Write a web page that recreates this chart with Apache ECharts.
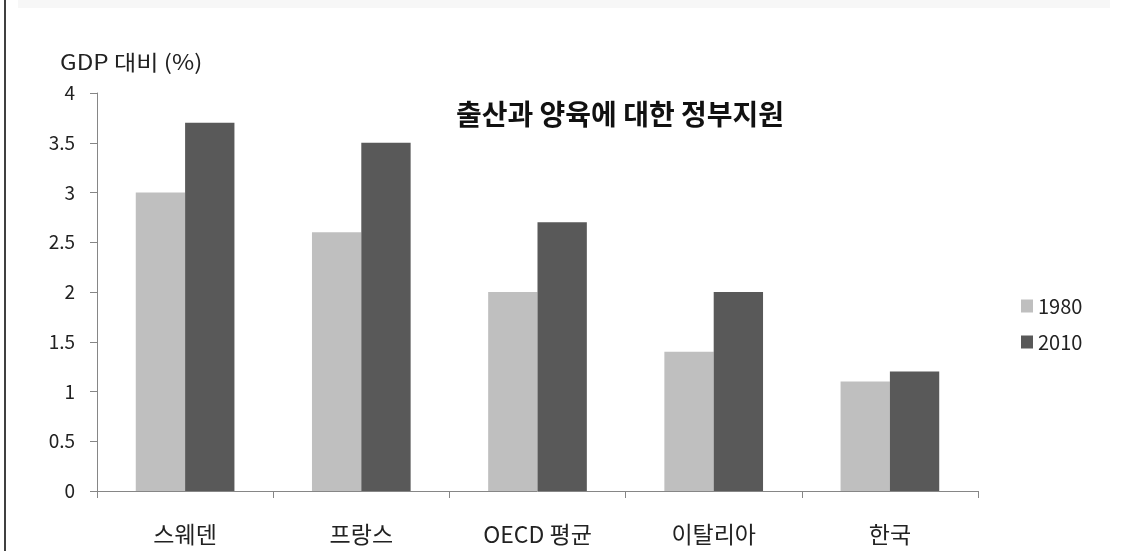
<!DOCTYPE html>
<html><head><meta charset="utf-8">
<script src="https://cdn.jsdelivr.net/npm/echarts@6/dist/echarts.min.js"></script>
<style>html,body{margin:0;padding:0;background:#fff}#c{width:1122px;height:551px}</style>
</head><body><div id="c"></div>
<script>
const categories = ['스웨덴', '프랑스', 'OECD 평균', '이탈리아', '한국'];
const series1980 = [3.0, 2.6, 2.0, 1.4, 1.1];
const series2010 = [3.7, 3.5, 2.7, 2.0, 1.2];
const seriesNames = ['1980', '2010'];
const titleText = '출산과 양육에 대한 정부지원';
const yName = 'GDP 대비 (%)';

const FONT = '"Noto Sans CJK KR", "Noto Sans", sans-serif';
const chart = echarts.init(document.getElementById('c'));
chart.setOption({
  animation: false,
  backgroundColor: '#fff',
  textStyle: { fontFamily: FONT },
  graphic: [
    { type: 'rect', shape: { x: 18, y: 0, width: 1092, height: 8 }, style: { fill: '#f7f7f7' } },
    { type: 'line', shape: { x1: 5, y1: 0, x2: 5, y2: 551 }, style: { stroke: '#000', lineWidth: 1.5 } },
    { type: 'text', x: 60, y: 62, style: { text: yName, fontSize: 21, fill: '#222', fontFamily: FONT, verticalAlign: 'middle' }, scaleX: 1.15 }
  ],
  title: {
    text: titleText, left: 615, top: 95, textAlign: 'center',
    textStyle: { fontSize: 28, fontWeight: 'bold', color: '#111', fontFamily: FONT }
  },
  legend: {
    orient: 'vertical', left: 1016, top: 291, itemGap: 16,
    itemWidth: 12, itemHeight: 13, icon: 'rect',
    textStyle: { fontSize: 20, color: '#222', fontFamily: FONT },
    data: seriesNames
  },
  grid: { left: 97, right: 144, top: 93, bottom: 60, containLabel: false },
  xAxis: {
    type: 'category', data: categories,
    axisLine: { lineStyle: { color: '#868686', width: 1 } },
    axisTick: { show: true, length: 7, lineStyle: { color: '#868686' }, alignWithLabel: false },
    axisLabel: { fontSize: 23, color: '#222', margin: 32, fontFamily: FONT }
  },
  yAxis: {
    type: 'value', min: 0, max: 4, interval: 0.5,
    axisLine: { show: true, lineStyle: { color: '#868686', width: 1 } },
    axisTick: { show: true, length: 7, lineStyle: { color: '#868686' } },
    splitLine: { show: false },
    axisLabel: { fontSize: 19, color: '#222', margin: 22, fontFamily: FONT }
  },
  series: [
    { name: seriesNames[0], type: 'bar', data: series1980, barWidth: '28%', barGap: '0%',
      itemStyle: { color: '#bfbfbf' } },
    { name: seriesNames[1], type: 'bar', data: series2010, barWidth: '28%', barGap: '0%',
      itemStyle: { color: '#595959' } }
  ]
});
</script></body></html>
